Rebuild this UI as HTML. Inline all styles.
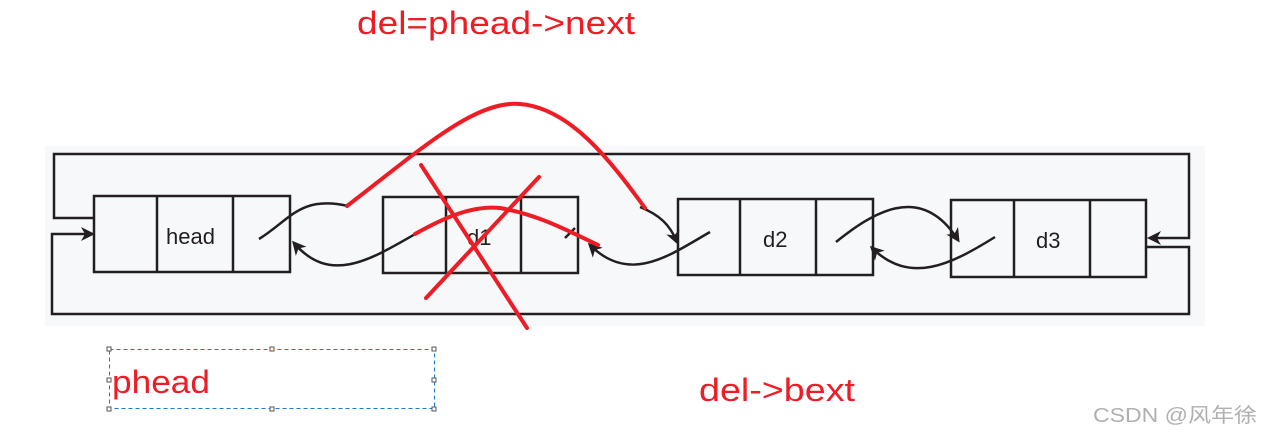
<!DOCTYPE html>
<html><head><meta charset="utf-8"><style>
html,body{margin:0;padding:0;background:#fff;width:1261px;height:436px;overflow:hidden}
</style></head><body>
<svg width="1261" height="436" viewBox="0 0 1261 436" xmlns="http://www.w3.org/2000/svg">
<defs>
<marker id="a" markerWidth="14" markerHeight="14" refX="11" refY="7" orient="auto" markerUnits="userSpaceOnUse">
<path d="M0,0 L14,7 L0,14 L4,7 Z" fill="#231f20"/></marker>
</defs>
<rect x="45" y="146" width="1160" height="180" fill="#f6f8fa"/>
<g fill="none" stroke="#231f20" stroke-width="2.5">
<polyline points="94,218 54,218 54,154 1189,154 1189,238 1150,238" marker-end="url(#a)"/>
<polyline points="1147,247 1189,247 1189,314 52,314 52,234 92,234" marker-end="url(#a)"/>
<rect x="94" y="196" width="196" height="76"/><line x1="157" y1="196" x2="157" y2="272"/><line x1="233" y1="196" x2="233" y2="272"/>
<rect x="383" y="197" width="195" height="76"/><line x1="446" y1="197" x2="446" y2="273"/><line x1="521" y1="197" x2="521" y2="273"/>
<rect x="678" y="199" width="195" height="76"/><line x1="740" y1="199" x2="740" y2="275"/><line x1="816" y1="199" x2="816" y2="275"/>
<rect x="951" y="200" width="195" height="77"/><line x1="1014" y1="200" x2="1014" y2="277"/><line x1="1090" y1="200" x2="1090" y2="277"/>
<path d="M259,239 C290,220 300,195 348,206"/>
<path d="M417,233 C370,260 330,285 294,243" marker-end="url(#a)"/>
<path d="M640,207 C660,215 670,225 677,242" marker-end="url(#a)"/>
<path d="M710,232 C670,255 630,285 590,245" marker-end="url(#a)"/>
<path d="M836,242 C870,215 920,180 958,240" marker-end="url(#a)"/>
<path d="M995,237 C950,265 910,285 872,248" marker-end="url(#a)"/>
<path d="M565,238 L575,228"/>
</g>
<g font-family="Liberation Sans, sans-serif" font-size="22" fill="#231f20">
<text x="166" y="244">head</text><text x="467" y="245">d1</text><text x="763" y="247">d2</text><text x="1036" y="248">d3</text>
</g>
<g fill="none" stroke="#ee1c25" stroke-width="4" stroke-linecap="round">
<path d="M347,206 C420,150 475,100 520,104 C570,108 610,160 645,208"/>
<line x1="421" y1="165" x2="527" y2="328"/>
<line x1="539" y1="177" x2="426" y2="298"/>
<path d="M415,234 C440,220 470,205 500,208 C540,215 570,232 598,245"/>
</g>
<g font-family="Liberation Sans, sans-serif" font-size="32" fill="#ee1c25">
<text x="357" y="34" textLength="278" lengthAdjust="spacingAndGlyphs">del=phead-&gt;next</text>
<text x="112" y="393" textLength="98" lengthAdjust="spacingAndGlyphs">phead</text>
<text x="699" y="401" textLength="156" lengthAdjust="spacingAndGlyphs">del-&gt;bext</text>
</g>
<rect x="109.5" y="349.5" width="325" height="59" fill="none" stroke="#1a7ad4" stroke-width="1" stroke-dasharray="4,3"/>
<g fill="#fff" stroke="#555" stroke-width="1">
<rect x="107" y="347" width="4" height="4"/><rect x="270" y="347" width="4" height="4"/><rect x="432" y="347" width="4" height="4"/>
<rect x="107" y="378" width="4" height="4"/><rect x="432" y="378" width="4" height="4"/>
<rect x="107" y="407" width="4" height="4"/><rect x="270" y="407" width="4" height="4"/><rect x="432" y="407" width="4" height="4"/>
</g>
<text x="1093" y="422" font-family="Liberation Sans, Noto Sans CJK SC, sans-serif" font-size="20" fill="#b0b0b0" textLength="164" lengthAdjust="spacingAndGlyphs">CSDN @风年徐</text>
</svg>
</body></html>
